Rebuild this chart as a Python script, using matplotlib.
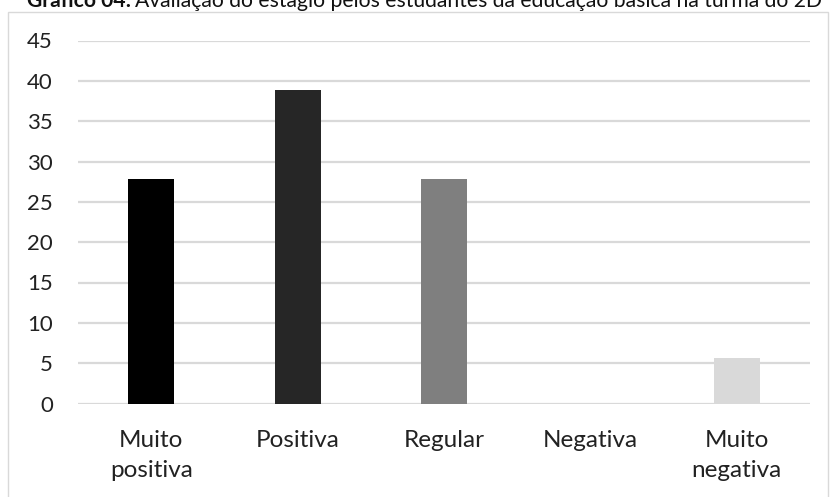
import matplotlib

matplotlib.use("Agg")
import matplotlib.pyplot as plt
from matplotlib.patches import Rectangle

categories = ["Muito\npositiva", "Positiva", "Regular", "Negativa", "Muito\nnegativa"]
values = [27.8, 38.9, 27.8, 0.0, 5.6]
bar_colors = ["#000000", "#262626", "#7f7f7f", "#a6a6a6", "#d9d9d9"]
yticks = [0, 5, 10, 15, 20, 25, 30, 35, 40, 45]

FONT = "Lato"
GRID = "#d9d9d9"

fig = plt.figure(figsize=(8.3, 4.97), dpi=100)
fig.patch.set_facecolor("white")

# outer frame of the chart area (runs off the bottom and right edges)
fig.patches.append(Rectangle((8 / 830, -0.05), 820 / 830, 1.05 - 11.5 / 497,
                             transform=fig.transFigure, fill=False,
                             edgecolor=GRID, linewidth=1.0))

ax = fig.add_axes([78 / 830, 1 - 403.5 / 497, 732 / 830, 363 / 497])
x = range(len(categories))
ax.bar(x, values, width=0.315, color=bar_colors, zorder=3)
ax.set_xlim(-0.5, len(categories) - 0.5)
ax.set_ylim(0, 45)
ax.set_yticks(yticks)
ax.set_yticklabels([str(t) for t in yticks], fontsize=16, family=FONT, color="#222222")
ax.set_xticks(list(x))
ax.set_xticklabels(categories, fontsize=17.5, family=FONT, color="#222222",
                   linespacing=1.55)
ax.tick_params(axis="y", length=0, pad=18)
ax.tick_params(axis="x", length=0, pad=19)
ax.yaxis.grid(True, color=GRID, linewidth=1.6, zorder=0)
for s in ax.spines.values():
    s.set_visible(False)

# caption at the top, half cut by the image edge
ty = 1 - 7 / 497
t1 = fig.text(27 / 830, ty, "Gráfico 04:", fontsize=15.2, fontweight="bold",
              family=FONT, va="baseline", ha="left", color="#111111")
fig.canvas.draw()
bb = t1.get_window_extent(renderer=fig.canvas.get_renderer())
fig.text(bb.x1 / 830 + 4 / 830, ty,
         "Avaliação do estágio pelos estudantes da educação básica na turma do 2D",
         fontsize=15.2, family=FONT, va="baseline", ha="left", color="#111111")

fig.savefig("out.png", dpi=100)
